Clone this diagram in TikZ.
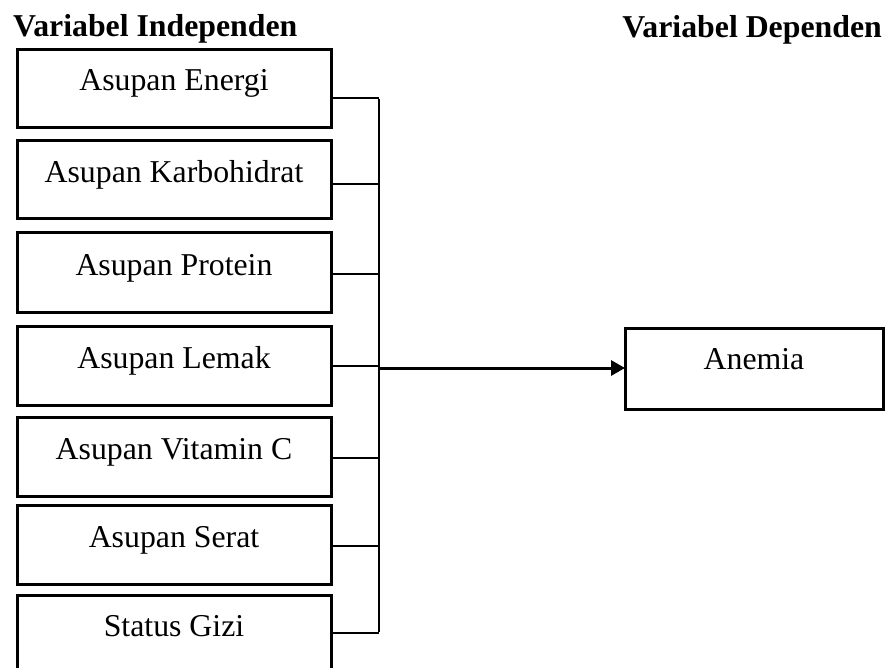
\documentclass[tikz,border=0pt]{standalone}
\usepackage{fontspec}
\setmainfont{Liberation Serif}
\usetikzlibrary{arrows.meta}
\begin{document}
\begin{tikzpicture}[x=1pt,y=-1pt,
  box/.style={draw=black,line width=3pt,minimum width=314pt,inner sep=0pt,outer sep=0pt},
  lbl/.style={anchor=base,inner sep=0pt,font=\fontsize{31.8}{36}\selectfont},
  ttl/.style={anchor=base,inner sep=0pt,font=\fontsize{31.8}{36}\selectfont\bfseries},
  conn/.style={draw=black,line width=2.2pt},
  arr/.style={draw=black,line width=3pt,-{Triangle[length=14pt,width=15pt]}}]
\useasboundingbox (0,0) rectangle (885,668);
\clip (0,0) rectangle (885,668);
% titles
\node[ttl,anchor=base west] (ti) at (13,37) {Variabel Independen};
\node[ttl,anchor=base east] (td) at (882,38) {Variabel Dependen};
% boxes
\node[box,minimum height=78pt] (b1) at (174,89) {};
\node[lbl] (l1) at (174,91) {Asupan Energi};
\node[box,minimum height=78pt] (b2) at (174,180) {};
\node[lbl] (l2) at (174,183) {Asupan Karbohidrat};
\node[box,minimum height=79pt] (b3) at (174,272.5) {};
\node[lbl] (l3) at (174,275) {Asupan Protein};
\node[box,minimum height=79pt] (b4) at (174,365.5) {};
\node[lbl] (l4) at (174,368) {Asupan Lemak};
\node[box,minimum height=79pt] (b5) at (174,456.5) {};
\node[lbl] (l5) at (174,459) {Asupan Vitamin C};
\node[box,minimum height=79pt] (b6) at (174,544.5) {};
\node[lbl] (l6) at (174,547) {Asupan Serat};
\node[box,minimum height=80pt] (b7) at (174,635) {};
\node[lbl] (l7) at (174,636) {Status Gizi};
\node[box,minimum width=258pt,minimum height=81pt] (an) at (754,368.5) {};
\node[lbl] (la) at (754,369) {Anemia};
% bus coordinates
\coordinate (c1) at (379,98);
\coordinate (c2) at (379,184);
\coordinate (c3) at (379,274);
\coordinate (c4) at (379,366);
\coordinate (c5) at (379,458);
\coordinate (c6) at (379,546);
\coordinate (c7) at (379,633);
\coordinate (ca) at (379,368);
% stubs
\foreach \i in {1,...,7}{\draw[conn] (b\i.east |- c\i) -- (c\i);}
% bus
\draw[draw=black,line width=2.6pt] ([yshift=-1.1pt]c1) -- ([yshift=1.1pt]c7);
% arrow
\draw[arr] (ca) -- (an.west |- ca);
\end{tikzpicture}
\end{document}
